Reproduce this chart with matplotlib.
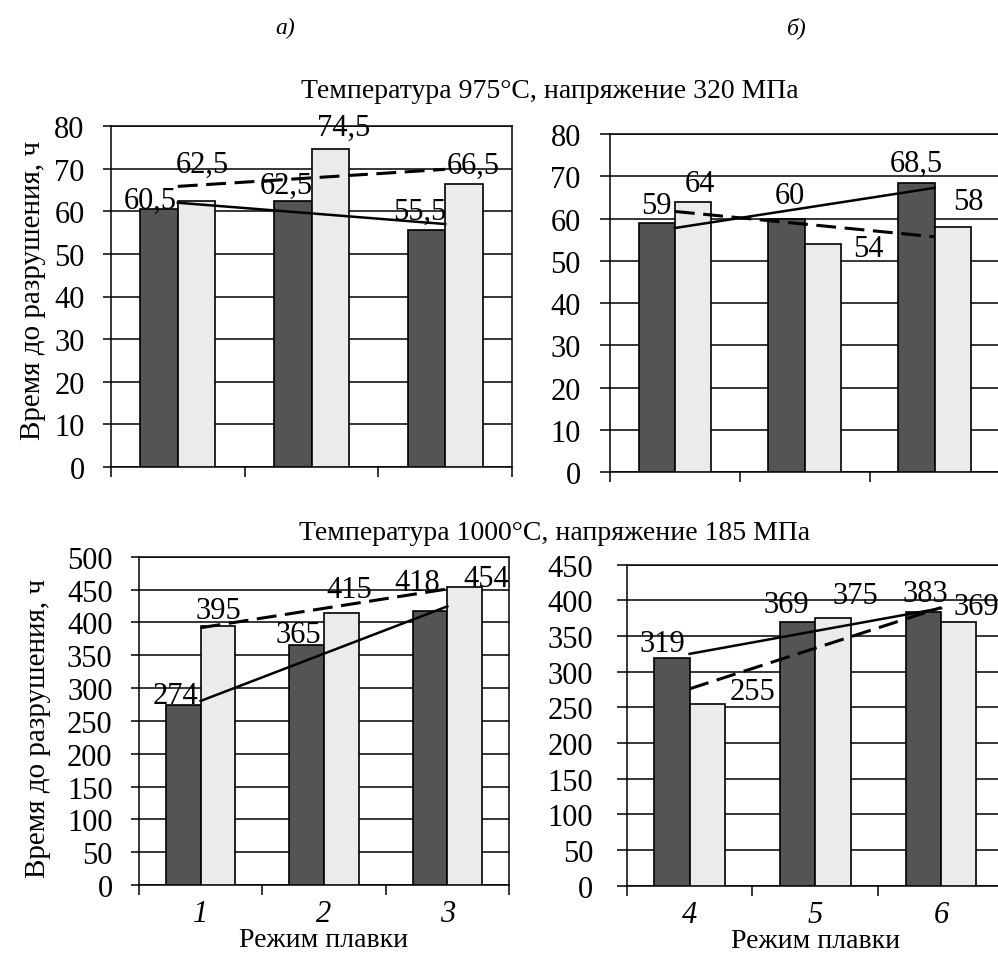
import numpy as np
import matplotlib
matplotlib.use("Agg")
import matplotlib.pyplot as plt
from matplotlib.ticker import FixedLocator, NullFormatter

plt.rcParams['font.family'] = ['Liberation Serif', 'DejaVu Serif']

# ---------------- data ----------------
cats_top_left = ["", "", ""]
cats_top_right = ["", "", ""]
cats_bot_left = ["1", "2", "3"]
cats_bot_right = ["4", "5", "6"]

dark_top_left = [60.5, 62.5, 55.5]
light_top_left = [62.5, 74.5, 66.5]
dark_top_right = [59, 60, 68.5]
light_top_right = [64, 54, 58]
dark_bot_left = [274, 365, 418]
light_bot_left = [395, 415, 454]
dark_bot_right = [319, 369, 383]
light_bot_right = [255, 375, 369]

title_top = "Температура 975°C, напряжение 320 МПа"
title_bot = "Температура 1000°C, напряжение 185 МПа"
ylabel = "Время до разрушения, ч"
xlabel = "Режим плавки"

# label offsets in pixels (dx, dy) relative to bar top centre
off_tl_dark = [(-9, 9), (-6, 15), (-7, 19)]
off_tl_light = [(6, 36), (13, 22), (9, 18)]
off_tr_dark = [(0, 17), (3, 23), (0, 19)]
off_tr_light = [(7, 18), (45, -5), (16, 25)]
off_bl_dark = [(-8, 10), (-8, 11), (-13, 28)]
off_bl_light = [(0, 15), (8, 23), (22, 8)]
off_br_dark = [(-10, 15), (-11, 18), (2, 19)]
off_br_light = [(45, 12), (22, 23), (18, 16)]

W, H = 998, 954
fig = plt.figure(figsize=(W / 100, H / 100), dpi=100)

def ax_px(x0, x1, ytop, ybot):
    return fig.add_axes([x0 / W, (H - ybot) / H, (x1 - x0) / W, (ybot - ytop) / H])

DARK = "#545454"
LIGHT = "#ebebeb"
FS = 22
BW = 0.28

def panel(ax, cats, dark, light, ymax, ystep, offd, offl, show_x, tlen, tpad):
    x = np.arange(len(cats))
    ax.bar(x - BW / 2, dark, BW, color=DARK, edgecolor="black", linewidth=1.2, zorder=3)
    ax.bar(x + BW / 2, light, BW, color=LIGHT, edgecolor="black", linewidth=1.2, zorder=3)
    # linear trend lines
    pd_ = np.polyfit(x, dark, 1)
    pl_ = np.polyfit(x, light, 1)
    xs = np.array([x[0], x[-1]], dtype=float)
    ax.plot(xs, np.polyval(pd_, xs), color="black", lw=1.8, zorder=4)
    ln, = ax.plot(xs, np.polyval(pl_, xs), color="black", lw=2.2, zorder=4)
    ln.set_dashes((6.5, 2.8))
    for i in range(len(cats)):
        ax.annotate(str(dark[i]).replace(".", ","), xy=(x[i] - BW / 2, dark[i]),
                    xytext=offd[i], textcoords="offset pixels", ha="center", va="center",
                    fontsize=FS, zorder=5)
        ax.annotate(str(light[i]).replace(".", ","), xy=(x[i] + BW / 2, light[i]),
                    xytext=offl[i], textcoords="offset pixels", ha="center", va="center",
                    fontsize=FS, zorder=5)
    ax.set_xlim(-0.5, len(cats) - 0.5)
    ax.set_ylim(0, ymax)
    ax.set_yticks(np.arange(0, ymax + 1, ystep))
    ax.yaxis.grid(True, color="black", lw=1.1, zorder=1)
    ax.set_axisbelow(True)
    ax.tick_params(axis="y", length=tlen, width=1.1, labelsize=FS, pad=tpad)
    ax.set_xticks(x)
    ax.set_xticklabels(cats if show_x else [""] * len(cats), fontsize=FS, style="italic")
    ax.tick_params(axis="x", which="major", length=0, pad=10)
    ax.xaxis.set_minor_locator(FixedLocator(np.arange(-0.5, len(cats), 1.0)))
    ax.xaxis.set_minor_formatter(NullFormatter())
    ax.tick_params(axis="x", which="minor", length=7, width=1.1, direction="out")
    for s in ax.spines.values():
        s.set_linewidth(1.1)
        s.set_color("black")

ax1 = ax_px(111, 512, 127, 468)
panel(ax1, cats_top_left, dark_top_left, light_top_left, 80, 10, off_tl_dark, off_tl_light, False, 6, 13)
ax2 = ax_px(610, 999.5, 135, 473)
panel(ax2, cats_top_right, dark_top_right, light_top_right, 80, 10, off_tr_dark, off_tr_light, False, 7, 14)
ax3 = ax_px(139, 509, 557.7, 886)
panel(ax3, cats_bot_left, dark_bot_left, light_bot_left, 500, 50, off_bl_dark, off_bl_light, True, 6, 13)
ax4 = ax_px(626.7, 1004, 565.7, 886.7)
panel(ax4, cats_bot_right, dark_bot_right, light_bot_right, 450, 50, off_br_dark, off_br_light, True, 7, 17)

for ax, xc, yc in [(ax1, (33 - 111) / 401, 0.52), (ax3, (38 - 139) / 370, 0.48)]:
    ax.set_ylabel(ylabel, fontsize=21)
    ax.yaxis.set_label_coords(xc, yc)
    ax.yaxis.label.set_verticalalignment("center")

for ax, yc in [(ax3, (886 - 941) / 328.3), (ax4, (886.7 - 942) / 321)]:
    ax.set_xlabel(xlabel, fontsize=20)
    ax.xaxis.set_label_coords(0.5, yc)
    ax.xaxis.label.set_verticalalignment("center")

fig.text(550 / W, 1 - 92 / H, title_top, ha="center", va="center", fontsize=20)
fig.text(555 / W, 1 - 534 / H, title_bot, ha="center", va="center", fontsize=20)
fig.text(285 / W, 1 - 28 / H, "а)", ha="center", va="center", fontsize=17, style="italic")
fig.text(797 / W, 1 - 28 / H, "б)", ha="center", va="center", fontsize=17, style="italic")

fig.savefig("out.png", dpi=100, facecolor="white")
